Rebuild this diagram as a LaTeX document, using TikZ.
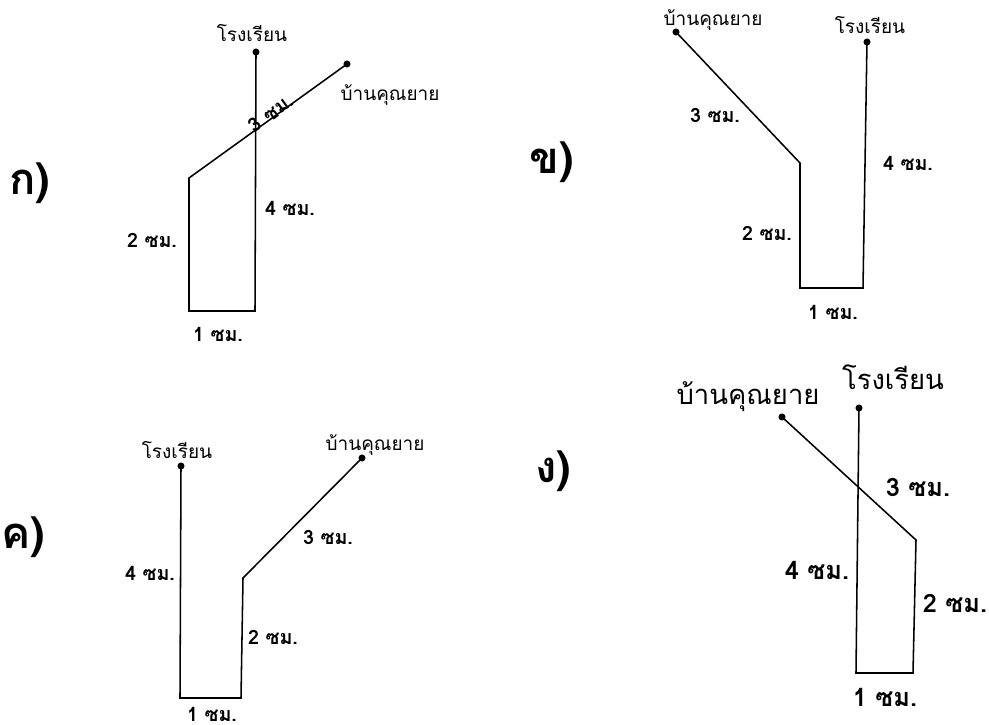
\documentclass[tikz,border=0pt]{standalone}
\usepackage{fontspec}
\newfontfamily\thaifont[Script=Thai]{Loma}
\usetikzlibrary{positioning}
\tikzset{
    x=0.025cm,
    y=-0.025cm,
    road/.style = {
        line width=1.1pt,
        line join=miter
    },
    place/.style = {
        shape=circle,
        fill,
        inner sep=0pt,
        minimum size=5pt
    },
    txt/.style = {
        inner sep=0pt,
        font=\thaifont\fontsize{13.5}{13.5}\selectfont
    },
    bigtxt/.style = {
        inner sep=0pt,
        font=\thaifont\fontsize{19.5}{19.5}\selectfont
    },
    lenlbl/.style = {
        inner sep=0pt,
        font=\thaifont\bfseries\fontsize{14}{14}\selectfont
    },
    biglen/.style = {
        inner sep=0pt,
        font=\thaifont\bfseries\fontsize{18}{18}\selectfont
    },
    panel/.style = {
        inner sep=0pt,
        font=\thaifont\bfseries\fontsize{31}{31}\selectfont
    },
}

\begin{document}
\begin{tikzpicture}
            \useasboundingbox (0,0) rectangle (989,725);

            \node[panel] (pa) at (30,183) {ก)};
            \node[place] (schoola) at (256,52) {};
            \node[place] (granda) at (347,64) {};
            \coordinate (a1) at (255,311);
            \coordinate (a2) at (189,311);
            \coordinate (a3) at (189,178);
            \node[txt] (schoolalbl) at (252,33) {โรงเรียน};
            \node[txt] (grandalbl) at (390,95) {บ้านคุณยาย};
            \node[lenlbl, rotate=36] (a3cm) at (271,113) {3 ซม.};
            \node[lenlbl] (a4cm) at (290,208) {4 ซม.};
            \node[lenlbl] (a2cm) at (152,240) {2 ซม.};
            \node[lenlbl] (a1cm) at (218,334) {1 ซม.};
            \path[draw, road] (schoola.center) -- (a1) -- (a2) -- (a3) --
            (granda.center);

            \node[panel] (pb) at (552,162) {ข)};
            \node[place] (grandb) at (676,32) {};
            \node[place] (schoolb) at (867,42) {};
            \coordinate (b1) at (800,163);
            \coordinate (b2) at (800,288);
            \coordinate (b3) at (863,288);
            \node[txt] (grandblbl) at (713,20) {บ้านคุณยาย};
            \node[txt] (schoolblbl) at (870,25) {โรงเรียน};
            \node[lenlbl] (b3cm) at (715,115) {3 ซม.};
            \node[lenlbl] (b4cm) at (908,163) {4 ซม.};
            \node[lenlbl] (b2cm) at (767,233) {2 ซม.};
            \node[lenlbl] (b1cm) at (833,312) {1 ซม.};
            \path[draw, road] (grandb.center) -- (b1) -- (b2) -- (b3) --
            (schoolb.center);

            \node[panel] (pc) at (23,537) {ค)};
            \node[place] (schoolc) at (181,466) {};
            \node[place] (grandc) at (362,458) {};
            \coordinate (c1) at (180,698);
            \coordinate (c2) at (241,698);
            \coordinate (c3) at (243,578);
            \node[txt] (schoolclbl) at (177,450) {โรงเรียน};
            \node[txt] (grandclbl) at (375,445) {บ้านคุณยาย};
            \node[lenlbl] (c3cm) at (328,537) {3 ซม.};
            \node[lenlbl] (c4cm) at (150,573) {4 ซม.};
            \node[lenlbl] (c2cm) at (273,637) {2 ซม.};
            \node[lenlbl, text depth=0pt] (c1cm) at (212,714) {1 ซม.};
            \path[draw, road] (schoolc.center) -- (c1) -- (c2) -- (c3) --
            (grandc.center);

            \node[panel] (pd) at (553,471) {ง)};
            \node[place] (schoold) at (859,408) {};
            \node[place] (grandd) at (782,417) {};
            \coordinate (d1) at (856,673);
            \coordinate (d2) at (913,673);
            \coordinate (d3) at (916,540);
            \node[bigtxt] (schooldlbl) at (893,377) {โรงเรียน};
            \node[bigtxt] (granddlbl) at (748,397) {บ้านคุณยาย};
            \node[biglen] (d3cm) at (918,487) {3 ซม.};
            \node[biglen] (d4cm) at (817,570) {4 ซม.};
            \node[biglen] (d2cm) at (955,603) {2 ซม.};
            \node[biglen] (d1cm) at (885,697) {1 ซม.};
            \path[draw, road] (schoold.center) -- (d1) -- (d2) -- (d3) --
            (grandd.center);
\end{tikzpicture}
\end{document}
